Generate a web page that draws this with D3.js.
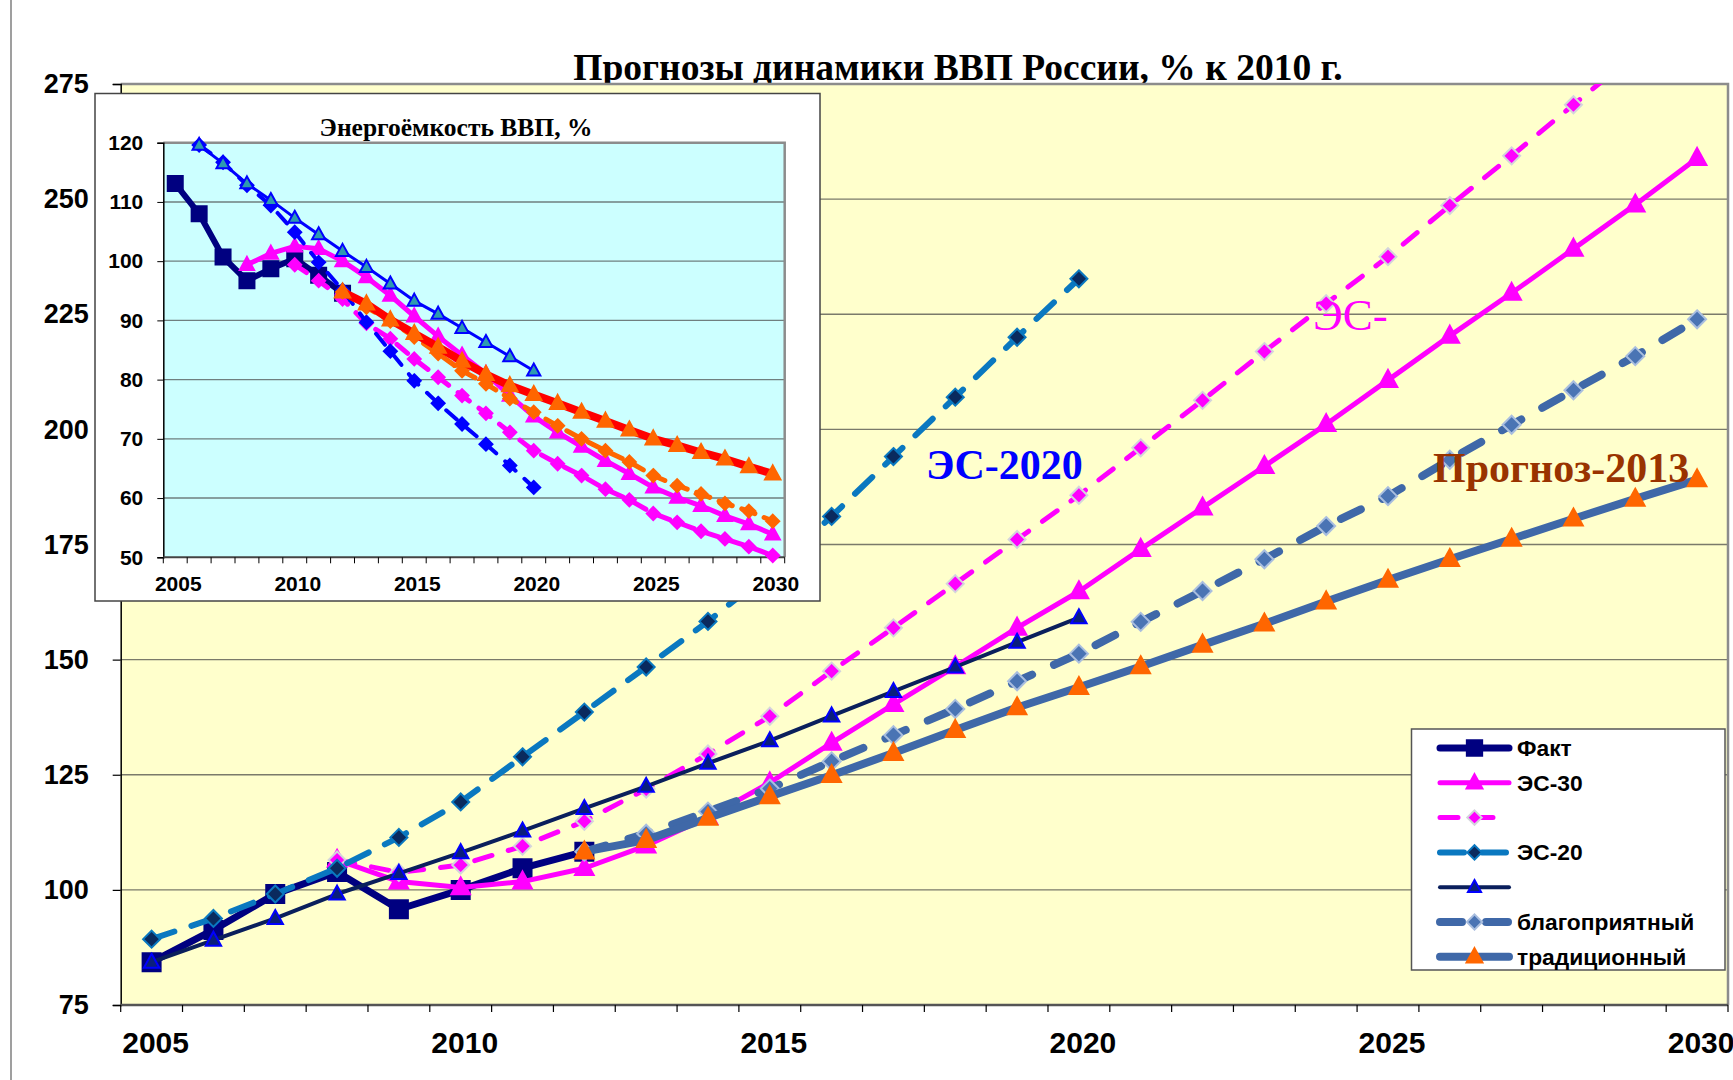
<!DOCTYPE html>
<html lang="ru">
<head>
<meta charset="UTF-8">
<title>Прогнозы динамики ВВП России</title>
<style>
  body { margin: 0; background: #fff; }
  text { font-family: "Liberation Sans", Arial, sans-serif; }
  .serif { font-family: "Liberation Serif", "Times New Roman", serif; font-weight: bold; }
</style>
</head>
<body>
<script src="https://cdn.jsdelivr.net/npm/d3@7"></script>
<div id="chart"></div>
<script>

// years on the category axis
var years = [2005, 2006, 2007, 2008, 2009, 2010, 2011, 2012, 2013, 2014, 2015, 2016, 2017,
             2018, 2019, 2020, 2021, 2022, 2023, 2024, 2025, 2026, 2027, 2028, 2029, 2030];
var yearLabels = [2005, 2010, 2015, 2020, 2025, 2030];
var gdpTicks = [75, 100, 125, 150, 175, 200, 225, 250, 275];
var eiTicks = [50, 60, 70, 80, 90, 100, 110, 120];

// GDP, % of 2010 (main chart)
var gdpFact    = [84.3, 91.3, 99.1, 103.9, 95.8, 100.0, 104.7, 108.3, null, null, null, null, null, null, null, null, null, null, null, null, null, null, null, null, null, null];
var gdpES30    = [null, null, null, 106.5, 101.8, 100.5, 101.8, 104.7, 109.6, 115.8, 123.3, 131.9, 140.3, 148.5, 156.9, 164.8, 174.0, 183.0, 192.0, 201.1, 210.7, 220.3, 229.6, 239.2, 248.8, 258.9];
var gdpES30b   = [null, null, null, 106.5, 103.8, 105.4, 109.5, 114.9, 121.9, 129.5, 137.7, 147.5, 156.9, 166.5, 176.1, 185.7, 196.0, 206.3, 216.9, 227.3, 237.5, 248.6, 259.4, 270.5, 281.5, 292.6];
var gdpES20    = [89.3, 93.8, 99.1, 104.7, 111.4, 119.1, 128.9, 138.6, 148.4, 158.3, 169.0, 181.1, 194.1, 207.0, 220.0, 232.7, null, null, null, null, null, null, null, null, null, null];
var gdpES20b   = [84.3, 89.1, 93.8, 99.1, 103.6, 108.1, 112.8, 117.7, 122.5, 127.5, 132.4, 137.8, 143.1, 148.4, 153.8, 159.1, null, null, null, null, null, null, null, null, null, null];
var gdpFav     = [null, null, null, null, null, null, null, 108.3, 112.2, 117.0, 122.0, 127.9, 133.6, 139.3, 145.3, 151.3, 158.2, 164.9, 171.8, 179.0, 185.5, 193.4, 201.0, 208.5, 215.9, 223.9];
var gdpTrad    = [null, null, null, null, null, null, null, 108.3, 110.8, 115.6, 120.3, 124.9, 129.7, 134.7, 139.6, 144.0, 148.5, 153.2, 157.8, 162.6, 167.3, 171.8, 176.2, 180.6, 184.9, 189.1];

// energy intensity of GDP, % (inset)
var eiFact     = [113.1, 108.0, 100.7, 96.7, 98.7, 100.4, 97.6, 94.6, null, null, null, null, null, null, null, null, null, null, null, null, null, null, null, null, null, null];
var eiES30     = [null, null, null, 99.4, 101.3, 102.5, 102.1, 100.0, 97.3, 94.2, 90.7, 87.3, 84.1, 81.0, 77.3, 73.8, 71.1, 68.7, 66.3, 64.1, 61.8, 60.1, 58.7, 57.0, 55.6, 53.9];
var eiES30b    = [null, null, null, null, null, 99.4, 96.7, 93.6, 89.5, 86.9, 83.5, 80.4, 77.3, 74.3, 71.1, 68.0, 65.8, 63.8, 61.5, 59.7, 57.4, 55.9, 54.4, 53.1, 51.8, 50.3];
var eiES20     = [null, 119.6, 116.7, 112.8, 109.4, 104.9, 99.8, 95.1, 89.7, 84.8, 79.8, 76.0, 72.5, 69.1, 65.5, 61.8, null, null, null, null, null, null, null, null, null, null];
var eiES20b    = [null, 119.6, 116.5, 113.1, 110.3, 107.3, 104.5, 101.7, 99.0, 96.2, 93.3, 91.1, 88.7, 86.3, 83.9, 81.5, null, null, null, null, null, null, null, null, null, null];
var eiFav      = [null, null, null, null, null, null, null, 94.8, 92.2, 89.9, 87.2, 84.4, 81.5, 79.3, 76.8, 74.5, 72.2, 70.0, 68.0, 66.1, 63.8, 62.1, 60.7, 59.1, 57.8, 56.1];
var eiTrad     = [null, null, null, null, null, null, null, 94.8, 92.8, 90.1, 87.8, 85.5, 83.1, 80.9, 79.0, 77.5, 76.0, 74.5, 73.0, 71.5, 70.0, 68.9, 67.7, 66.6, 65.3, 64.1];

var legendNames = ["Факт", "ЭС-30", "", "ЭС-20", "", "благоприятный", "традиционный"];

// styles for the main chart series (same order as legend)
var mainStyles = [
  {data: gdpFact,  color: "#000080", width: 7, dash: null,    marker: "square",   size: 18, fill: "#000080", mstroke: "#000080"},
  {data: gdpES30,  color: "#FF00FF", width: 5, dash: null,    marker: "triangle", size: 17, fill: "#FF00FF", mstroke: "#FF00FF"},
  {data: gdpES30b, color: "#FF00FF", width: 5, dash: "18,17", marker: "diamond",  size: 17, fill: "#FF00FF", mstroke: "#D4D4DC"},
  {data: gdpES20,  color: "#0A78C0", width: 6, dash: "24,18", marker: "diamond",  size: 17, fill: "#0A2A5E", mstroke: "#0A78C0"},
  {data: gdpES20b, color: "#0A1F5C", width: 4, dash: null,    marker: "triangle", size: 14, fill: "#0A1F7C", mstroke: "#0000FF"},
  {data: gdpFav,   color: "#3F68A8", width: 8, dash: "22,24", marker: "diamond",  size: 18, fill: "#4A74B4", mstroke: "#A9BEDF"},
  {data: gdpTrad,  color: "#3F68A8", width: 8, dash: null,    marker: "triangle", size: 17, fill: "#FF6600", mstroke: "#FF6600"}
];

var insetStyles = [
  {data: eiFact,  color: "#000080", width: 6, dash: null,    marker: "square",   size: 15, fill: "#000080", mstroke: "#000080"},
  {data: eiES30,  color: "#FF00FF", width: 5, dash: null,    marker: "triangle", size: 13, fill: "#FF00FF", mstroke: "#FF00FF"},
  {data: eiES30b, color: "#FF00FF", width: 5, dash: "14,12", marker: "diamond",  size: 13, fill: "#FF00FF", mstroke: "#FF00FF"},
  {data: eiES20,  color: "#0000FF", width: 4, dash: "14,12", marker: "diamond",  size: 13, fill: "#0000FF", mstroke: "#0000FF"},
  {data: eiES20b, color: "#0000FF", width: 3, dash: null,    marker: "triangle", size: 12, fill: "#2E9AB0", mstroke: "#0000FF"},
  {data: eiFav,   color: "#FF6600", width: 5, dash: "14,10", marker: "diamond",  size: 13, fill: "#FF6600", mstroke: "#FF6600"},
  {data: eiTrad,  color: "#FF0000", width: 8, dash: null,    marker: "triangle", size: 14, fill: "#FF6600", mstroke: "#FF6600"}
];

function markerPath(type, s) {
  if (type === "square") return "M" + (-s/2) + "," + (-s/2) + "h" + s + "v" + s + "h" + (-s) + "Z";
  if (type === "triangle") return "M0," + (-s*0.6) + "L" + (s*0.55) + "," + (s*0.4) + "L" + (-s*0.55) + "," + (s*0.4) + "Z";
  return "M0," + (-s/2) + "L" + (s/2) + ",0L0," + (s/2) + "L" + (-s/2) + ",0Z";
}

var W = 1733, H = 1080;
var svg = d3.select("#chart").append("svg")
  .attr("width", W).attr("height", H)
  .style("display", "block");

svg.append("rect").attr("width", W).attr("height", H).attr("fill", "#fff");
// chart area frame
svg.append("rect").attr("x", 11).attr("y", -5).attr("width", 1800).attr("height", 1200)
  .attr("fill", "none").attr("stroke", "#808080").attr("stroke-width", 1.5);

// ---------------- main chart ----------------
var mLeft = 120.7, mRight = 1728, mTop = 84, mBottom = 1005;

var x = d3.scaleBand().domain(years).range([mLeft, mRight]);
var y = d3.scaleLinear().domain([75, 275]).range([mBottom, mTop]);
var cx = function(i) { return x(years[i]) + x.bandwidth() / 2; };

svg.append("text").attr("class", "serif")
  .attr("x", 958).attr("y", 80)
  .attr("text-anchor", "middle")
  .style("font-size", "37.5px")
  .text("Прогнозы динамики ВВП России, % к 2010 г.");

svg.append("clipPath").attr("id", "mainClip")
  .append("rect").attr("x", mLeft).attr("y", mTop).attr("width", mRight - mLeft).attr("height", mBottom - mTop);

svg.append("rect")
  .attr("x", mLeft).attr("y", mTop).attr("width", mRight - mLeft).attr("height", mBottom - mTop)
  .attr("fill", "#FFFFCC");

// gridlines
svg.append("g").selectAll("line")
  .data(gdpTicks.filter(function(t) { return t > 75 && t < 275; }))
  .enter().append("line")
    .attr("x1", mLeft).attr("x2", mRight)
    .attr("y1", function(d) { return y(d); }).attr("y2", function(d) { return y(d); })
    .attr("stroke", "#7a7a6a").attr("stroke-width", 1.4);

// plot border (top, right) in gray
svg.append("path")
  .attr("d", "M" + mLeft + "," + mTop + "H" + mRight + "V" + mBottom)
  .attr("fill", "none").attr("stroke", "#8c8c8c").attr("stroke-width", 2.5);

// y axis
var yAxis = svg.append("g")
  .attr("transform", "translate(" + mLeft + ",0)")
  .call(d3.axisLeft(y).tickValues(gdpTicks).tickSize(8).tickPadding(24));
yAxis.select(".domain").attr("stroke", "#000").attr("stroke-width", 1.5);
yAxis.selectAll(".tick line").attr("stroke", "#000").attr("stroke-width", 1.2);
yAxis.selectAll("text")
  .attr("fill", "#000")
  .style("font-family", "'Liberation Sans', Arial, sans-serif")
  .style("font-weight", "bold").style("font-size", "27px");

// x axis: ticks at category boundaries, labels every 5 years
svg.append("line")
  .attr("x1", mLeft).attr("x2", mRight).attr("y1", mBottom).attr("y2", mBottom)
  .attr("stroke", "#555").attr("stroke-width", 2.5);
svg.append("g").selectAll("line")
  .data(years.concat([2031]))
  .enter().append("line")
    .attr("x1", function(d, i) { return mLeft + i * x.bandwidth(); })
    .attr("x2", function(d, i) { return mLeft + i * x.bandwidth(); })
    .attr("y1", mBottom).attr("y2", mBottom + 7)
    .attr("stroke", "#000").attr("stroke-width", 1.2);
svg.append("g").selectAll("text")
  .data(yearLabels)
  .enter().append("text")
    .attr("x", function(d) { return x(d) + x.bandwidth() / 2 + 4; })
    .attr("y", 1053)
    .attr("text-anchor", "middle")
    .style("font-weight", "bold").style("font-size", "30px")
    .text(function(d) { return d; });

function drawSeries(g, styles, xf, yf, clipId) {
  styles.forEach(function(s) {
    var line = d3.line()
      .defined(function(d) { return d != null; })
      .x(function(d, i) { return xf(i); })
      .y(function(d) { return yf(d); });
    var sg = g.append("g").attr("clip-path", clipId ? "url(#" + clipId + ")" : null);
    sg.append("path")
      .datum(s.data)
      .attr("d", line)
      .attr("fill", "none")
      .attr("stroke", s.color)
      .attr("stroke-width", s.width)
      .attr("stroke-linejoin", "round")
      .attr("stroke-linecap", "round")
      .attr("stroke-dasharray", s.dash);
    var pts = s.data.map(function(v, i) { return {v: v, i: i}; })
      .filter(function(p) { return p.v != null; });
    sg.selectAll(".mk")
      .data(pts)
      .enter().append("path")
        .attr("d", markerPath(s.marker, s.size))
        .attr("transform", function(p) { return "translate(" + xf(p.i) + "," + yf(p.v) + ")"; })
        .attr("fill", s.fill)
        .attr("stroke", s.mstroke)
        .attr("stroke-width", 2);
  });
}

drawSeries(svg.append("g"), mainStyles, cx, y, "mainClip");

// annotations
svg.append("text").attr("class", "serif")
  .attr("x", 1313).attr("y", 330)
  .style("font-size", "45px").style("font-weight", "normal")
  .attr("fill", "#FF00FF")
  .text("ЭС-");
svg.append("text").attr("class", "serif")
  .attr("x", 926).attr("y", 479)
  .style("font-size", "42px")
  .attr("fill", "#0000FF")
  .text("ЭС-2020");
svg.append("text").attr("class", "serif")
  .attr("x", 1433).attr("y", 482)
  .style("font-size", "42px")
  .attr("fill", "#993300")
  .text("Прогноз-2013");

// legend
var lg = svg.append("g");
lg.append("rect")
  .attr("x", 1411.5).attr("y", 729).attr("width", 313.5).attr("height", 241)
  .attr("fill", "#fff").attr("stroke", "#555").attr("stroke-width", 1.5);
legendNames.forEach(function(name, k) {
  var s = mainStyles[k];
  var ly = 748 + k * 34.8;
  lg.append("line")
    .attr("x1", 1440).attr("x2", 1509).attr("y1", ly).attr("y2", ly)
    .attr("stroke", s.color).attr("stroke-width", s.width)
    .attr("stroke-linecap", "round")
    .attr("stroke-dasharray", s.dash);
  lg.append("path")
    .attr("d", markerPath(s.marker, s.size * 0.85))
    .attr("transform", "translate(1474.5," + ly + ")")
    .attr("fill", s.fill).attr("stroke", s.mstroke).attr("stroke-width", 2);
  lg.append("text")
    .attr("x", 1517).attr("y", ly + 8)
    .style("font-weight", "bold").style("font-size", "22.8px")
    .text(name);
});

// ---------------- inset: energy intensity ----------------
var iLeft = 163.3, iRight = 784.7, iTop = 142.7, iBottom = 557.3;
var ix = d3.scaleBand().domain(years).range([iLeft, iRight]);
var iy = d3.scaleLinear().domain([50, 120]).range([iBottom, iTop]);
var icx = function(i) { return ix(years[i]) + ix.bandwidth() / 2; };

var ins = svg.append("g");
ins.append("rect")
  .attr("x", 95).attr("y", 93.5).attr("width", 725).attr("height", 507.5)
  .attr("fill", "#fff").attr("stroke", "#444").attr("stroke-width", 1.5);

ins.append("text").attr("class", "serif")
  .attr("x", 456).attr("y", 136)
  .attr("text-anchor", "middle")
  .style("font-size", "25.5px")
  .text("Энергоёмкость ВВП, %");

ins.append("rect")
  .attr("x", iLeft).attr("y", iTop).attr("width", iRight - iLeft).attr("height", iBottom - iTop)
  .attr("fill", "#CCFFFF");

ins.append("g").selectAll("line")
  .data(eiTicks.filter(function(t) { return t > 50 && t < 120; }))
  .enter().append("line")
    .attr("x1", iLeft).attr("x2", iRight)
    .attr("y1", function(d) { return iy(d); }).attr("y2", function(d) { return iy(d); })
    .attr("stroke", "#6f7f7f").attr("stroke-width", 1.4);

ins.append("path")
  .attr("d", "M" + iLeft + "," + iTop + "H" + iRight + "V" + iBottom)
  .attr("fill", "none").attr("stroke", "#8c8c8c").attr("stroke-width", 2.5);

var iyAxis = ins.append("g")
  .attr("transform", "translate(" + iLeft + ",0)")
  .call(d3.axisLeft(iy).tickValues(eiTicks).tickSize(6).tickPadding(14));
iyAxis.select(".domain").attr("stroke", "#000").attr("stroke-width", 1.5);
iyAxis.selectAll(".tick line").attr("stroke", "#000");
iyAxis.selectAll("text")
  .attr("fill", "#000")
  .style("font-family", "'Liberation Sans', Arial, sans-serif")
  .style("font-weight", "bold").style("font-size", "21px");

ins.append("line")
  .attr("x1", iLeft).attr("x2", iRight).attr("y1", iBottom).attr("y2", iBottom)
  .attr("stroke", "#444").attr("stroke-width", 2);
ins.append("g").selectAll("line")
  .data(years.concat([2031]))
  .enter().append("line")
    .attr("x1", function(d, i) { return iLeft + i * ix.bandwidth(); })
    .attr("x2", function(d, i) { return iLeft + i * ix.bandwidth(); })
    .attr("y1", iBottom).attr("y2", iBottom + 6)
    .attr("stroke", "#000");
ins.append("g").selectAll("text")
  .data(yearLabels)
  .enter().append("text")
    .attr("x", function(d) { return ix(d) + ix.bandwidth() / 2 + 3; })
    .attr("y", 591)
    .attr("text-anchor", "middle")
    .style("font-weight", "bold").style("font-size", "21px")
    .text(function(d) { return d; });

drawSeries(ins.append("g"), insetStyles, icx, iy, null);

</script>
</body>
</html>
